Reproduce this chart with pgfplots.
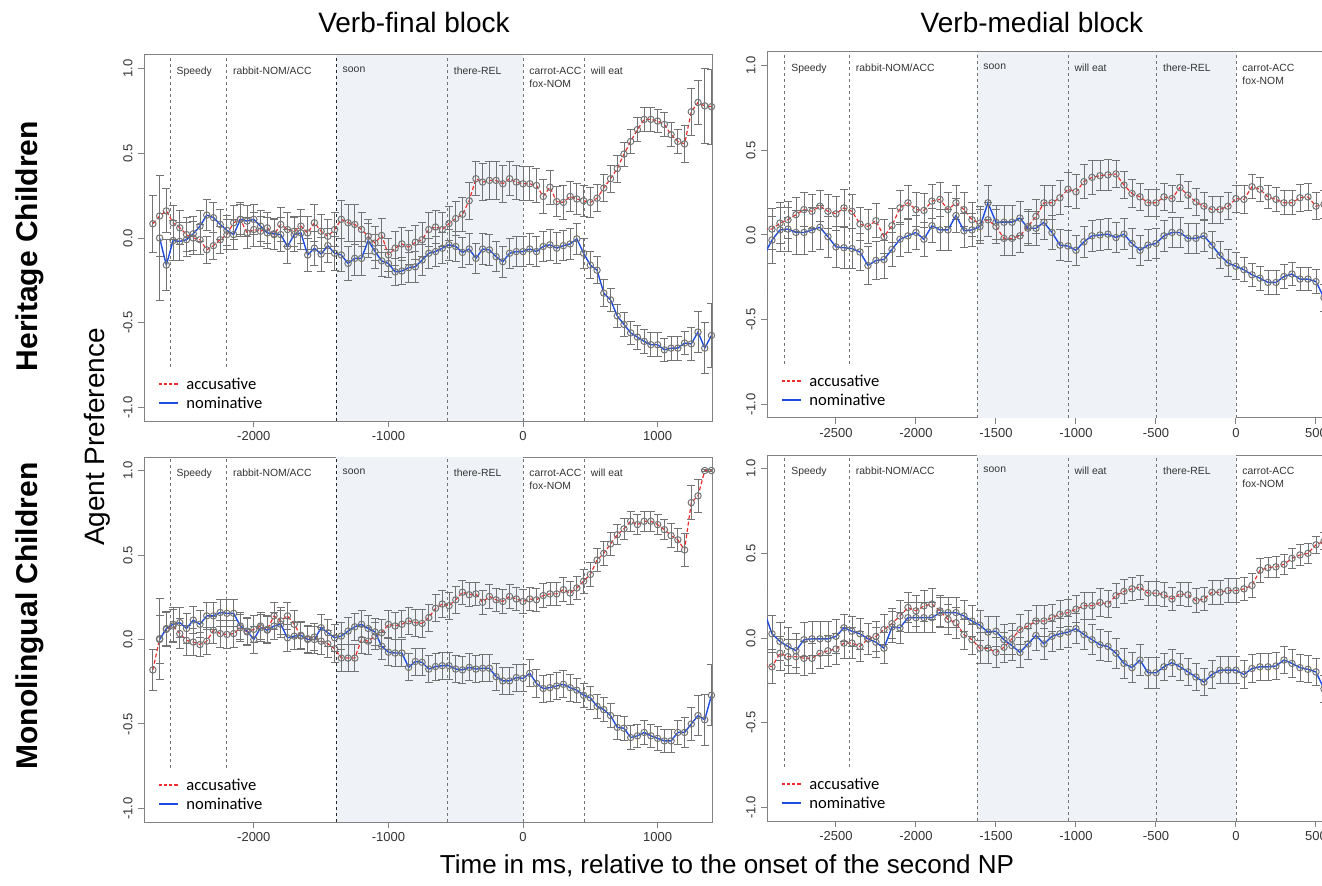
\documentclass[border=0pt]{standalone}
\usepackage{fontspec}
\setmainfont{Liberation Sans}
\newfontfamily\legfont{Carlito}
\usepackage{pgfplots}
\usepackage{pgfplotstable}
\pgfplotsset{compat=1.18}

\definecolor{accred}{RGB}{240,45,45}
\definecolor{nomblue}{RGB}{30,75,225}
\definecolor{shadebg}{RGB}{239,243,247}
\definecolor{framegray}{RGB}{130,130,130}

\newcommand\tickfont{\fontsize{6.5}{7}\selectfont}
\newcommand\labfont{\fontsize{5.2}{6.6}\selectfont}

% Heritage, verb-final
\pgfplotstableread{
x y e
-2750 0.084 0.17
-2700 0.13 0.24
-2650 0.16 0.13
-2600 0.09 0.1
-2550 0.06 0.1
-2500 0.02 0.1
-2450 0.0 0.1
-2400 -0.01 0.09
-2350 -0.07 0.08
-2300 -0.045 0.08
-2250 -0.01 0.08
-2200 0.02 0.09
-2150 0.09 0.1
-2100 0.11 0.1
-2050 0.03 0.09
-2000 0.05 0.1
-1950 0.04 0.09
-1900 0.06 0.09
-1850 0.02 0.09
-1800 0.08 0.1
-1750 0.05 0.1
-1700 0.04 0.09
-1650 0.07 0.1
-1600 0.03 0.1
-1550 0.09 0.11
-1500 0.04 0.1
-1450 0.01 0.1
-1400 0.05 0.1
-1350 0.11 0.11
-1300 0.09 0.11
-1250 0.08 0.12
-1200 0.05 0.1
-1150 0.01 0.1
-1100 -0.03 0.1
-1050 0.015 0.1
-1000 -0.1 0.1
-950 -0.06 0.1
-900 -0.035 0.1
-850 -0.055 0.1
-800 -0.025 0.1
-750 -0.01 0.1
-700 0.05 0.1
-650 0.065 0.1
-600 0.05 0.1
-550 0.085 0.1
-500 0.115 0.1
-450 0.14 0.1
-400 0.22 0.11
-350 0.35 0.1
-300 0.33 0.11
-250 0.34 0.11
-200 0.34 0.11
-150 0.32 0.11
-100 0.35 0.1
-50 0.33 0.1
0 0.32 0.1
50 0.32 0.1
100 0.31 0.1
150 0.245 0.1
200 0.30 0.1
250 0.215 0.09
300 0.21 0.1
350 0.245 0.09
400 0.23 0.09
450 0.22 0.09
500 0.21 0.09
550 0.235 0.08
600 0.295 0.08
650 0.35 0.08
700 0.41 0.08
750 0.495 0.07
800 0.57 0.07
850 0.64 0.07
900 0.70 0.07
950 0.70 0.07
1000 0.69 0.07
1050 0.67 0.07
1100 0.61 0.07
1150 0.57 0.07
1200 0.555 0.11
1250 0.745 0.14
1300 0.80 0.13
1350 0.78 0.22
1400 0.775 0.22
}\tlacc

\pgfplotstableread{
x y e
-2700 0.0 0.37
-2650 -0.16 0.15
-2600 -0.015 0.12
-2550 -0.02 0.11
-2500 -0.01 0.1
-2450 0.025 0.1
-2400 0.07 0.09
-2350 0.135 0.09
-2300 0.12 0.09
-2250 0.08 0.09
-2200 0.045 0.09
-2150 0.02 0.09
-2100 0.11 0.09
-2050 0.10 0.09
-2000 0.11 0.09
-1950 0.07 0.09
-1900 0.03 0.09
-1850 0.025 0.09
-1800 0.02 0.1
-1750 -0.05 0.1
-1700 0.02 0.1
-1650 0.03 0.1
-1600 -0.1 0.1
-1550 -0.06 0.1
-1500 -0.095 0.1
-1450 -0.045 0.1
-1400 -0.09 0.1
-1350 -0.1 0.1
-1300 -0.15 0.1
-1250 -0.12 0.1
-1200 -0.12 0.1
-1150 -0.015 0.1
-1100 -0.08 0.1
-1050 -0.135 0.09
-1000 -0.15 0.08
-950 -0.2 0.08
-900 -0.195 0.08
-850 -0.175 0.09
-800 -0.17 0.09
-750 -0.13 0.09
-700 -0.09 0.09
-650 -0.08 0.09
-600 -0.06 0.09
-550 -0.04 0.09
-500 -0.05 0.09
-450 -0.085 0.09
-400 -0.065 0.09
-350 -0.12 0.09
-300 -0.065 0.09
-250 -0.07 0.09
-200 -0.11 0.09
-150 -0.14 0.09
-100 -0.09 0.09
-50 -0.08 0.09
0 -0.08 0.09
50 -0.065 0.09
100 -0.08 0.09
150 -0.05 0.09
200 -0.04 0.09
250 -0.06 0.09
300 -0.045 0.09
350 -0.035 0.09
400 -0.005 0.09
450 -0.09 0.09
500 -0.16 0.08
550 -0.19 0.08
600 -0.325 0.08
650 -0.365 0.07
700 -0.46 0.07
750 -0.51 0.07
800 -0.56 0.07
850 -0.585 0.07
900 -0.61 0.07
950 -0.63 0.07
1000 -0.63 0.07
1050 -0.66 0.07
1100 -0.65 0.07
1150 -0.65 0.07
1200 -0.62 0.07
1250 -0.625 0.1
1300 -0.555 0.12
1350 -0.65 0.15
1400 -0.575 0.19
}\tlnom

% Heritage, verb-medial
\pgfplotstableread{
x y e
-2950 0.035 0.12
-2900 0.035 0.12
-2850 0.07 0.12
-2800 0.09 0.11
-2750 0.12 0.1
-2700 0.15 0.1
-2650 0.14 0.1
-2600 0.17 0.09
-2550 0.14 0.1
-2500 0.125 0.1
-2450 0.16 0.11
-2400 0.14 0.1
-2350 0.065 0.1
-2300 0.05 0.1
-2250 0.085 0.1
-2200 -0.01 0.1
-2150 0.055 0.1
-2100 0.16 0.1
-2050 0.19 0.1
-2000 0.15 0.1
-1950 0.145 0.1
-1900 0.2 0.1
-1850 0.21 0.1
-1800 0.15 0.1
-1750 0.19 0.1
-1700 0.15 0.1
-1650 0.09 0.1
-1600 0.07 0.1
-1550 0.09 0.1
-1500 0.05 0.1
-1450 -0.02 0.1
-1400 -0.02 0.1
-1350 -0.005 0.1
-1300 0.05 0.1
-1250 0.11 0.1
-1200 0.19 0.1
-1150 0.19 0.1
-1100 0.22 0.1
-1050 0.27 0.1
-1000 0.255 0.1
-950 0.315 0.1
-900 0.34 0.1
-850 0.35 0.09
-800 0.355 0.09
-750 0.36 0.08
-700 0.295 0.08
-650 0.245 0.08
-600 0.225 0.08
-550 0.19 0.08
-500 0.19 0.08
-450 0.225 0.08
-400 0.215 0.08
-350 0.28 0.08
-300 0.235 0.08
-250 0.195 0.08
-200 0.17 0.08
-150 0.15 0.08
-100 0.15 0.08
-50 0.17 0.08
0 0.215 0.08
50 0.21 0.08
100 0.285 0.07
150 0.27 0.07
200 0.225 0.07
250 0.21 0.07
300 0.19 0.07
350 0.19 0.07
400 0.22 0.08
450 0.225 0.08
500 0.17 0.08
550 0.18 0.08
}\tracc

\pgfplotstableread{
x y e
-2950 -0.12 0.2
-2900 -0.03 0.14
-2850 0.03 0.13
-2800 0.035 0.13
-2750 0.015 0.13
-2700 0.015 0.13
-2650 0.03 0.13
-2600 0.045 0.13
-2550 -0.01 0.12
-2500 -0.07 0.12
-2450 -0.075 0.12
-2400 -0.08 0.12
-2350 -0.1 0.11
-2300 -0.18 0.11
-2250 -0.15 0.11
-2200 -0.145 0.11
-2150 -0.085 0.1
-2100 -0.025 0.1
-2050 -0.005 0.1
-2000 0.015 0.1
-1950 -0.025 0.1
-1900 0.055 0.1
-1850 0.03 0.12
-1800 0.03 0.12
-1750 0.115 0.1
-1700 0.025 0.1
-1650 0.03 0.1
-1600 0.05 0.1
-1550 0.19 0.1
-1500 0.075 0.1
-1450 0.075 0.1
-1400 0.075 0.1
-1350 0.1 0.1
-1300 0.04 0.1
-1250 0.04 0.1
-1200 0.075 0.1
-1150 0.015 0.1
-1100 -0.06 0.09
-1050 -0.065 0.09
-1000 -0.09 0.09
-950 -0.04 0.09
-900 -0.005 0.09
-850 0.0 0.09
-800 0.005 0.09
-750 -0.015 0.09
-700 0.005 0.09
-650 -0.05 0.09
-600 -0.09 0.09
-550 -0.06 0.09
-500 -0.05 0.09
-450 -0.005 0.09
-400 0.015 0.09
-350 0.015 0.09
-300 -0.02 0.09
-250 -0.02 0.09
-200 -0.005 0.09
-150 -0.06 0.08
-100 -0.12 0.08
-50 -0.165 0.08
0 -0.185 0.08
50 -0.205 0.07
100 -0.235 0.07
150 -0.255 0.07
200 -0.28 0.07
250 -0.28 0.07
300 -0.245 0.07
350 -0.23 0.07
400 -0.26 0.07
450 -0.26 0.07
500 -0.275 0.07
550 -0.37 0.08
}\trnom

% Monolingual, verb-final
\pgfplotstableread{
x y e
-2750 -0.18 0.12
-2700 0.005 0.24
-2650 0.06 0.1
-2600 0.08 0.1
-2550 0.035 0.09
-2500 -0.005 0.09
-2450 -0.015 0.08
-2400 -0.03 0.07
-2350 -0.01 0.08
-2300 0.055 0.08
-2250 0.035 0.08
-2200 0.03 0.08
-2150 0.035 0.08
-2100 0.07 0.08
-2050 0.045 0.08
-2000 0.06 0.08
-1950 0.08 0.08
-1900 0.06 0.08
-1850 0.14 0.08
-1800 0.11 0.08
-1750 0.14 0.08
-1700 0.09 0.08
-1650 0.02 0.08
-1600 0.005 0.08
-1550 0.015 0.08
-1500 -0.01 0.08
-1450 -0.025 0.08
-1400 -0.055 0.08
-1350 -0.11 0.08
-1300 -0.11 0.08
-1250 -0.11 0.08
-1200 0.0 0.08
-1150 -0.01 0.08
-1100 0.02 0.08
-1050 0.04 0.08
-1000 0.09 0.08
-950 0.08 0.08
-900 0.09 0.08
-850 0.11 0.08
-800 0.1 0.08
-750 0.095 0.08
-700 0.13 0.08
-650 0.185 0.08
-600 0.21 0.08
-550 0.2 0.08
-500 0.235 0.08
-450 0.28 0.07
-400 0.265 0.07
-350 0.27 0.07
-300 0.22 0.07
-250 0.255 0.07
-200 0.235 0.07
-150 0.225 0.07
-100 0.255 0.07
-50 0.24 0.07
0 0.225 0.07
50 0.24 0.07
100 0.235 0.07
150 0.26 0.07
200 0.27 0.07
250 0.27 0.07
300 0.295 0.07
350 0.275 0.07
400 0.305 0.07
450 0.345 0.07
500 0.385 0.07
550 0.47 0.07
600 0.51 0.07
650 0.565 0.07
700 0.62 0.06
750 0.655 0.06
800 0.7 0.06
850 0.68 0.06
900 0.7 0.06
950 0.7 0.06
1000 0.68 0.06
1050 0.65 0.06
1100 0.615 0.07
1150 0.59 0.07
1200 0.53 0.1
1250 0.81 0.1
1300 0.85 0.1
1350 1.0 0.005
1400 1.0 0.005
}\blacc

\pgfplotstableread{
x y e
-2700 0.0 0.14
-2650 0.065 0.1
-2600 0.09 0.1
-2550 0.1 0.09
-2500 0.065 0.09
-2450 0.115 0.08
-2400 0.09 0.08
-2350 0.14 0.08
-2300 0.14 0.08
-2250 0.16 0.08
-2200 0.155 0.08
-2150 0.155 0.08
-2100 0.08 0.08
-2050 0.05 0.08
-2000 0.0 0.08
-1950 0.07 0.08
-1900 0.055 0.08
-1850 0.08 0.08
-1800 0.09 0.08
-1750 0.01 0.08
-1700 0.02 0.08
-1650 0.025 0.08
-1600 0.0 0.08
-1550 0.0 0.08
-1500 0.07 0.08
-1450 0.04 0.08
-1400 0.01 0.08
-1350 0.02 0.08
-1300 0.05 0.08
-1250 0.075 0.08
-1200 0.09 0.08
-1150 0.065 0.08
-1100 0.045 0.08
-1050 -0.04 0.08
-1000 -0.075 0.08
-950 -0.08 0.08
-900 -0.08 0.08
-850 -0.165 0.08
-800 -0.13 0.08
-750 -0.135 0.08
-700 -0.175 0.08
-650 -0.16 0.08
-600 -0.155 0.08
-550 -0.155 0.08
-500 -0.175 0.08
-450 -0.18 0.08
-400 -0.165 0.08
-350 -0.175 0.08
-300 -0.17 0.08
-250 -0.17 0.08
-200 -0.22 0.08
-150 -0.245 0.08
-100 -0.245 0.08
-50 -0.225 0.08
0 -0.23 0.08
50 -0.2 0.08
100 -0.26 0.08
150 -0.29 0.08
200 -0.285 0.08
250 -0.275 0.08
300 -0.265 0.08
350 -0.285 0.08
400 -0.3 0.07
450 -0.33 0.07
500 -0.345 0.07
550 -0.395 0.07
600 -0.415 0.07
650 -0.45 0.07
700 -0.52 0.07
750 -0.525 0.07
800 -0.58 0.07
850 -0.57 0.07
900 -0.55 0.07
950 -0.57 0.07
1000 -0.585 0.07
1050 -0.6 0.07
1100 -0.6 0.07
1150 -0.55 0.07
1200 -0.55 0.09
1250 -0.5 0.1
1300 -0.45 0.12
1350 -0.475 0.15
1400 -0.33 0.18
}\blnom

% Monolingual, verb-medial
\pgfplotstableread{
x y e
-2950 -0.155 0.1
-2900 -0.17 0.1
-2850 -0.09 0.1
-2800 -0.11 0.1
-2750 -0.11 0.1
-2700 -0.12 0.1
-2650 -0.12 0.09
-2600 -0.09 0.09
-2550 -0.075 0.09
-2500 -0.065 0.09
-2450 -0.03 0.09
-2400 -0.03 0.09
-2350 -0.05 0.09
-2300 -0.005 0.09
-2250 0.01 0.09
-2200 0.05 0.09
-2150 0.085 0.09
-2100 0.13 0.09
-2050 0.18 0.09
-2000 0.16 0.09
-1950 0.19 0.09
-1900 0.2 0.09
-1850 0.16 0.09
-1800 0.11 0.09
-1750 0.09 0.09
-1700 0.02 0.09
-1650 -0.01 0.09
-1600 -0.06 0.09
-1550 -0.06 0.09
-1500 -0.085 0.09
-1450 -0.055 0.09
-1400 -0.005 0.09
-1350 0.05 0.09
-1300 0.07 0.09
-1250 0.1 0.09
-1200 0.1 0.09
-1150 0.12 0.08
-1100 0.14 0.08
-1050 0.15 0.08
-1000 0.17 0.08
-950 0.19 0.08
-900 0.19 0.08
-850 0.21 0.08
-800 0.2 0.08
-750 0.25 0.07
-700 0.275 0.07
-650 0.29 0.07
-600 0.3 0.07
-550 0.265 0.07
-500 0.265 0.07
-450 0.255 0.07
-400 0.23 0.07
-350 0.26 0.07
-300 0.255 0.07
-250 0.22 0.07
-200 0.23 0.07
-150 0.27 0.07
-100 0.27 0.07
-50 0.28 0.07
0 0.28 0.07
50 0.29 0.07
100 0.31 0.07
150 0.4 0.07
200 0.415 0.06
250 0.42 0.06
300 0.435 0.06
350 0.47 0.06
400 0.49 0.06
450 0.5 0.06
500 0.55 0.05
550 0.57 0.05
}\bracc

\pgfplotstableread{
x y e
-2950 0.16 0.15
-2900 0.025 0.11
-2850 -0.02 0.11
-2800 -0.05 0.11
-2750 -0.075 0.1
-2700 -0.01 0.1
-2650 -0.005 0.1
-2600 -0.005 0.1
-2550 -0.005 0.1
-2500 0.01 0.1
-2450 0.06 0.08
-2400 0.04 0.09
-2350 0.025 0.09
-2300 -0.005 0.09
-2250 -0.025 0.09
-2200 -0.06 0.09
-2150 0.065 0.09
-2100 0.06 0.09
-2050 0.12 0.09
-2000 0.12 0.09
-1950 0.12 0.09
-1900 0.12 0.09
-1850 0.15 0.09
-1800 0.15 0.09
-1750 0.15 0.09
-1700 0.13 0.09
-1650 0.1 0.09
-1600 0.075 0.09
-1550 0.035 0.09
-1500 0.04 0.09
-1450 -0.01 0.09
-1400 -0.045 0.09
-1350 -0.085 0.09
-1300 -0.035 0.09
-1250 0.015 0.09
-1200 -0.035 0.09
-1150 0.01 0.09
-1100 0.025 0.09
-1050 0.035 0.09
-1000 0.055 0.09
-950 0.02 0.09
-900 -0.01 0.09
-850 -0.04 0.09
-800 -0.05 0.09
-750 -0.09 0.09
-700 -0.15 0.09
-650 -0.175 0.09
-600 -0.13 0.09
-550 -0.205 0.09
-500 -0.205 0.09
-450 -0.17 0.08
-400 -0.145 0.08
-350 -0.17 0.08
-300 -0.2 0.08
-250 -0.23 0.08
-200 -0.26 0.08
-150 -0.215 0.08
-100 -0.19 0.08
-50 -0.19 0.08
0 -0.19 0.08
50 -0.215 0.08
100 -0.18 0.08
150 -0.17 0.08
200 -0.17 0.08
250 -0.165 0.08
300 -0.13 0.08
350 -0.15 0.08
400 -0.175 0.08
450 -0.185 0.08
500 -0.2 0.08
550 -0.3 0.08
}\brnom

\pgfplotsset{
  panel/.style={
    scale only axis, width=284pt, height=183pt,
    ymin=-1.08, ymax=1.08,
    axis line style={framegray, line width=0.5pt},
    tick style={framegray, line width=0.5pt},
    tick align=outside, tick pos=left, major tick length=3pt,
    ytick={-1,-0.5,0,0.5,1},
    yticklabels={-1.0,-0.5,0.0,0.5,1.0},
    yticklabel style={rotate=90, anchor=south, inner sep=2.5pt, font=\tickfont, text=black!80},
    xticklabel style={inner sep=2pt, font=\tickfont, text=black!80},
  },
  panelL/.style={panel, xmin=-2816, xmax=1404,
    xtick={-2000,-1000,0,1000}, xticklabels={-2000,-1000,0,1000}},
  panelR/.style={panel, xmin=-2931, xmax=619,
    xtick={-2500,-2000,-1500,-1000,-500,0,500},
    xticklabels={-2500,-2000,-1500,-1000,-500,0,500}},
  acc/.style={forget plot, accred, line width=0.6pt, dash pattern=on 2pt off 1.2pt,
    mark=o, mark size=1.6pt, mark options={solid, draw=black!55, line width=0.5pt},
    error bars/.cd, y dir=both, y explicit,
    error bar style={solid, black!55, line width=0.45pt},
    error mark options={rotate=90, mark size=2pt, solid, black!55, line width=0.45pt}},
  nom/.style={forget plot, nomblue, line width=0.7pt,
    mark=o, mark size=1.6pt, mark options={solid, draw=black!55, line width=0.5pt},
    error bars/.cd, y dir=both, y explicit,
    error bar style={solid, black!55, line width=0.45pt},
    error mark options={rotate=90, mark size=2pt, solid, black!55, line width=0.45pt}},
}

\tikzset{
  vl/.style={black!55, line width=0.45pt, dash pattern=on 1.5pt off 1.5pt},
  vd/.style={black!85, line width=0.45pt, dash pattern=on 1.5pt off 1.5pt},
  lab/.style={anchor=north west, xshift=3pt, inner sep=0pt, align=left, font=\labfont, text=black!80},
  legtext/.style={anchor=west, inner sep=0pt, font=\legfont\fontsize{8.3}{9}\selectfont},
}

% verb-final panel furniture
\newcommand\finalmarks{%
  \fill[shadebg] (axis cs:-1387,-1.08) rectangle (axis cs:0,1.08);
  \draw[vl] (axis cs:-2621,-0.76) -- (axis cs:-2621,1.08);
  \draw[vl] (axis cs:-2202,-0.76) -- (axis cs:-2202,1.08);
  \draw[vd] (axis cs:-1387,-1.08) -- (axis cs:-1387,1.08);
  \draw[vl] (axis cs:-561,-1.08) -- (axis cs:-561,1.08);
  \draw[vl] (axis cs:0,-1.08) -- (axis cs:0,1.08);
  \draw[vl] (axis cs:457,-1.08) -- (axis cs:457,1.08);
  \node[lab] at (axis cs:-2621,1.01) {Speedy};
  \node[lab] at (axis cs:-2202,1.01) {rabbit-NOM/ACC};
  \node[lab] at (axis cs:-1387,1.01) {soon};
  \node[lab] at (axis cs:-561,1.01) {there-REL};
  \node[lab] at (axis cs:0,1.01) {carrot-ACC\\fox-NOM};
  \node[lab] at (axis cs:457,1.01) {will eat};
}
% verb-medial panel furniture
\newcommand\medialmarks{%
  \fill[shadebg] (axis cs:-1618,-1.08) rectangle (axis cs:0,1.08);
  \draw[vl] (axis cs:-2819,-0.76) -- (axis cs:-2819,1.08);
  \draw[vl] (axis cs:-2415,-0.76) -- (axis cs:-2415,1.08);
  \draw[vl] (axis cs:-1618,-1.08) -- (axis cs:-1618,1.08);
  \draw[vl] (axis cs:-1048,-1.08) -- (axis cs:-1048,1.08);
  \draw[vl] (axis cs:-495,-1.08) -- (axis cs:-495,1.08);
  \draw[vl] (axis cs:0,-1.08) -- (axis cs:0,1.08);
  \node[lab] at (axis cs:-2819,1.01) {Speedy};
  \node[lab] at (axis cs:-2415,1.01) {rabbit-NOM/ACC};
  \node[lab] at (axis cs:-1618,1.01) {soon};
  \node[lab] at (axis cs:-1048,1.01) {will eat};
  \node[lab] at (axis cs:-495,1.01) {there-REL};
  \node[lab] at (axis cs:0,1.01) {carrot-ACC\\fox-NOM};
}
% legend, drawn in axis-relative coordinates
\newcommand\legentries{%
  \draw[accred, line width=0.7pt, dash pattern=on 1.6pt off 1pt]
    (rel axis cs:0.026,0.101) -- ++(9.5pt,0pt);
  \node[legtext] at (rel axis cs:0.074,0.101) {accusative};
  \draw[nomblue, line width=0.8pt] (rel axis cs:0.026,0.049) -- ++(9.5pt,0pt);
  \node[legtext] at (rel axis cs:0.074,0.049) {nominative};
}

\begin{document}
\begin{tikzpicture}

% Heritage / verb-final
\begin{axis}[panelL, at={(72pt,232pt)}, anchor=south west]
  \finalmarks
  \addplot[acc] table[x=x, y=y, y error=e] {\tlacc};
  \addplot[nom] table[x=x, y=y, y error=e] {\tlnom};
  \legentries
\end{axis}

% Heritage / verb-medial
\begin{axis}[panelR, at={(383.5pt,233.5pt)}, anchor=south west]
  \medialmarks
  \addplot[acc] table[x=x, y=y, y error=e] {\tracc};
  \addplot[nom] table[x=x, y=y, y error=e] {\trnom};
  \legentries
\end{axis}

% Monolingual / verb-final
\begin{axis}[panelL, at={(72pt,31.5pt)}, anchor=south west, height=182.5pt]
  \finalmarks
  \addplot[acc] table[x=x, y=y, y error=e] {\blacc};
  \addplot[nom] table[x=x, y=y, y error=e] {\blnom};
  \legentries
\end{axis}

% Monolingual / verb-medial
\begin{axis}[panelR, at={(383.5pt,32pt)}, anchor=south west]
  \medialmarks
  \addplot[acc] table[x=x, y=y, y error=e] {\bracc};
  \addplot[nom] table[x=x, y=y, y error=e] {\brnom};
  \legentries
\end{axis}

% titles and labels
\node[font=\fontsize{14}{16}\selectfont] at (207pt,431.5pt) {Verb-final block};
\node[font=\fontsize{14}{16}\selectfont] at (516pt,431.5pt) {Verb-medial block};
\node[font=\bfseries\fontsize{15}{17}\selectfont, rotate=90] at (15pt,319.5pt) {Heritage Children};
\node[font=\bfseries\fontsize{15}{17}\selectfont, rotate=90] at (15pt,134.5pt) {Monolingual Children};
\node[font=\fontsize{14}{16}\selectfont, rotate=90] at (48.5pt,224pt) {Agent Preference};
\node[font=\fontsize{13}{15}\selectfont] at (363.5pt,9.5pt) {Time in ms, relative to the onset of the second NP};

\pgfresetboundingbox
\useasboundingbox (0pt,0pt) rectangle (661pt,442.5pt);
\end{tikzpicture}
\end{document}
